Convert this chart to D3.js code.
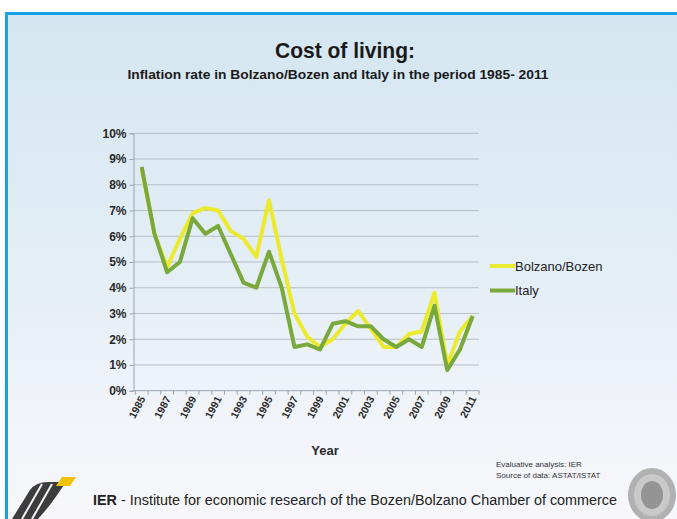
<!DOCTYPE html>
<html>
<head>
<meta charset="utf-8">
<script src="https://cdn.jsdelivr.net/npm/d3@7"></script>
<style>
  html, body { margin: 0; padding: 0; background: #ffffff; }
  svg { display: block; }
  text { font-family: "Liberation Sans Narrow", "Arial Narrow", "Liberation Sans", Arial, sans-serif; }
</style>
</head>
<body>
<svg id="chart" width="677" height="519"></svg>
<script>
// Inflation rate (%) per year
const years = d3.range(1985, 2012);
const bolzano = [8.6, 6.1, 4.8, 5.9, 6.9, 7.1, 7.0, 6.2, 5.9, 5.2, 7.4, 5.1, 3.0, 2.1, 1.7, 2.0, 2.6, 3.1, 2.4, 1.7, 1.7, 2.2, 2.3, 3.8, 1.0, 2.3, 2.9];
const italy   = [8.7, 6.1, 4.6, 5.0, 6.7, 6.1, 6.4, 5.3, 4.2, 4.0, 5.4, 4.0, 1.7, 1.8, 1.6, 2.6, 2.7, 2.5, 2.5, 2.0, 1.7, 2.0, 1.7, 3.3, 0.8, 1.6, 2.9];
const yTicks = [0, 1, 2, 3, 4, 5, 6, 7, 8, 9, 10];
const xLabelYears = years.filter(y => (y - 1985) % 2 === 0);
const seriesNames = ["Bolzano/Bozen", "Italy"];

const svg = d3.select("#chart");
const W = 677, H = 519;

// Panel background gradient
const defs = svg.append("defs");
const grad = defs.append("linearGradient").attr("id", "bg").attr("x1", 0).attr("y1", 0).attr("x2", 0).attr("y2", 1);
grad.append("stop").attr("offset", "0%").attr("stop-color", "#d4e6f1");
grad.append("stop").attr("offset", "55%").attr("stop-color", "#e6eff6");
grad.append("stop").attr("offset", "82%").attr("stop-color", "#f3f5fa");
grad.append("stop").attr("offset", "100%").attr("stop-color", "#f7f7fb");

svg.append("rect").attr("x", 0).attr("y", 0).attr("width", W).attr("height", H).attr("fill", "#ffffff");
svg.append("rect").attr("x", 6.5).attr("y", 13.5).attr("width", W + 10).attr("height", H).attr("fill", "url(#bg)")
  .attr("stroke", "#17a2e6").attr("stroke-width", 3);

// Titles
svg.append("text").attr("x", 345).attr("y", 58).attr("text-anchor", "middle")
  .attr("font-size", 22).attr("font-weight", "bold").attr("fill", "#1a1a1a")
  .attr("textLength", 140).attr("lengthAdjust", "spacingAndGlyphs")
  .text("Cost of living:");
svg.append("text").attr("x", 338).attr("y", 79).attr("text-anchor", "middle")
  .attr("font-size", 12).attr("font-weight", "bold").attr("fill", "#1a1a1a")
  .attr("textLength", 421).attr("lengthAdjust", "spacingAndGlyphs")
  .text("Inflation rate in Bolzano/Bozen and Italy in the period 1985- 2011");

// Scales
const x = d3.scalePoint().domain(years).range([141.7, 472.7]);
const y = d3.scaleLinear().domain([0, 10]).range([390.7, 133.3]);
const step = x.step();
const plotLeft = 133.5, plotRight = x(2011) + step / 2;

// Gridlines
svg.append("g").selectAll("line").data(yTicks.filter(d => d > 0)).join("line")
  .attr("x1", plotLeft).attr("x2", plotRight)
  .attr("y1", d => y(d)).attr("y2", d => y(d))
  .attr("stroke", "#b6bfc8").attr("stroke-width", 1);

// Y axis
const yAxis = svg.append("g").attr("transform", `translate(${plotLeft},0)`)
  .call(d3.axisLeft(y).tickValues(yTicks).tickSize(4).tickPadding(3).tickFormat(d => d + "%"));
yAxis.select(".domain").attr("stroke", "#9aa3ab");
yAxis.selectAll(".tick line").attr("stroke", "#9aa3ab");
yAxis.selectAll(".tick text").attr("font-size", 12).attr("font-weight", "bold").attr("fill", "#2a2a2a")
  .attr("font-family", "'Liberation Sans Narrow', 'Arial Narrow', 'Liberation Sans', sans-serif");

// X axis: tick marks at every category boundary, labels every second year
const xAxisG = svg.append("g");
xAxisG.append("line").attr("x1", plotLeft).attr("x2", plotRight)
  .attr("y1", y(0)).attr("y2", y(0)).attr("stroke", "#9aa3ab");
xAxisG.selectAll("line.tk").data(years.concat([2012])).join("line").attr("class", "tk")
  .attr("x1", d => x(1985) + (d - 1985) * step - step / 2)
  .attr("x2", d => x(1985) + (d - 1985) * step - step / 2)
  .attr("y1", y(0)).attr("y2", y(0) + 4)
  .attr("stroke", "#9aa3ab");
xAxisG.selectAll("text").data(xLabelYears).join("text")
  .attr("transform", d => `translate(${x(d) + 4},${y(0) + 8}) rotate(-62)`)
  .attr("text-anchor", "end").attr("font-size", 10.5).attr("font-weight", "bold").attr("fill", "#2a2a2a")
  .text(d => d);

svg.append("text").attr("x", 325).attr("y", 455).attr("text-anchor", "middle")
  .attr("font-size", 13).attr("font-weight", "bold").attr("fill", "#2a2a2a").text("Year");

// Lines
const colors = { "Bolzano/Bozen": "#ecea2e", "Italy": "#79a83b" };
const line = d3.line().x((d, i) => x(years[i])).y(d => y(d));
svg.append("path").datum(bolzano).attr("d", line).attr("fill", "none")
  .attr("stroke", colors["Bolzano/Bozen"]).attr("stroke-width", 4).attr("stroke-linejoin", "round");
svg.append("path").datum(italy).attr("d", line).attr("fill", "none")
  .attr("stroke", colors["Italy"]).attr("stroke-width", 4).attr("stroke-linejoin", "round");

// Legend
const legend = svg.append("g").attr("transform", "translate(490,266)");
seriesNames.forEach((name, i) => {
  const g = legend.append("g").attr("transform", `translate(0,${i * 24.5})`);
  g.append("line").attr("x1", 0).attr("x2", 25).attr("y1", 0).attr("y2", 0)
    .attr("stroke", colors[name]).attr("stroke-width", 4);
  g.append("text").attr("x", 25).attr("y", 4.5).attr("font-size", 13).attr("fill", "#222").text(name);
});

// Footer
svg.append("text").attr("x", 496).attr("y", 467).attr("font-size", 8).attr("fill", "#333")
  .text("Evaluative analysis: IER");
svg.append("text").attr("x", 496).attr("y", 478).attr("font-size", 8).attr("fill", "#333")
  .text("Source of data: ASTAT/ISTAT");
const foot = svg.append("text").attr("x", 93).attr("y", 505).attr("font-size", 14).attr("fill", "#222")
  .attr("textLength", 524).attr("lengthAdjust", "spacingAndGlyphs");
foot.append("tspan").attr("font-weight", "bold").text("IER");
foot.append("tspan").text(" - Institute for economic research of the Bozen/Bolzano Chamber of commerce");

// IER logo
const logo = svg.append("g");
logo.append("path").attr("d", "M12,519 L30,490 Q36,482 48,482 L66,482 L55,498 Q48,508 38,519 Z").attr("fill", "#3c3c3c");
logo.append("line").attr("x1", 22).attr("y1", 519).attr("x2", 42).attr("y2", 484).attr("stroke", "#f4f5f9").attr("stroke-width", 2);
logo.append("line").attr("x1", 32).attr("y1", 519).attr("x2", 52).attr("y2", 484).attr("stroke", "#f4f5f9").attr("stroke-width", 2);
logo.append("path").attr("d", "M56,486 L62,477 L76,477 L70,486 Z").attr("fill", "#f2c200");

// Chamber seal
const seal = svg.append("g").attr("transform", "translate(652,495)");
seal.append("ellipse").attr("rx", 24).attr("ry", 27).attr("fill", "#9a9a9a").attr("opacity", 0.75);
seal.append("ellipse").attr("rx", 18).attr("ry", 21).attr("fill", "#cfcfcf").attr("opacity", 0.8);
seal.append("ellipse").attr("rx", 11).attr("ry", 14).attr("fill", "#7e7e7e").attr("opacity", 0.7);
</script>
</body>
</html>
